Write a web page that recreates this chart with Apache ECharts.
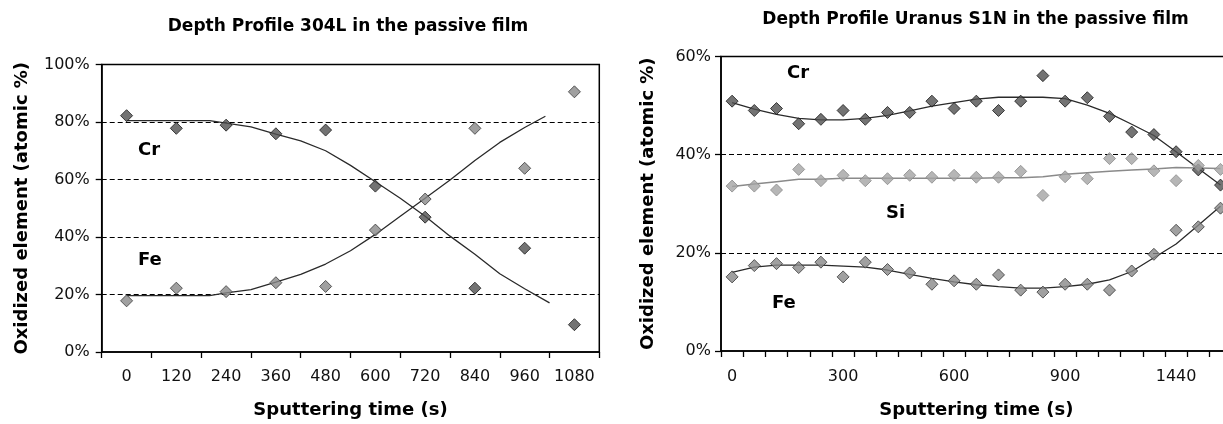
<!DOCTYPE html>
<html>
<head>
<meta charset="utf-8">
<script src="https://cdn.jsdelivr.net/npm/echarts@6/dist/echarts.min.js"></script>
<style>
html,body{margin:0;padding:0;background:#fff;overflow:hidden;width:1223px;height:424px;}
#chart{width:1245px;height:424px;}
</style>
</head>
<body>
<div id="chart"></div>
<script>
// ---------- Left chart: 304L ----------
var leftTimes = [0, 120, 240, 360, 480, 600, 720, 840, 960, 1080];
var leftCr = [82.2, 77.8, 78.9, 75.9, 77.2, 57.7, 46.9, 22.2, 36.1, 9.5];
var leftFe = [17.8, 22.2, 21.0, 24.1, 22.8, 42.4, 53.2, 77.8, 63.9, 90.5];
var leftCrCurveT = [0, 200, 240, 300, 360, 420, 480, 540, 600, 660, 720, 780, 840, 900, 960, 1020];
var leftCrCurve = [80.5, 80.5, 79.6, 78.3, 75.8, 73.4, 70.0, 64.9, 59.2, 53.5, 47.2, 40.3, 34.0, 27.2, 22.0, 17.1];
var leftFeCurveT = [0, 200, 240, 300, 360, 420, 480, 540, 600, 660, 720, 780, 840, 900, 960, 1010];
var leftFeCurve = [19.6, 19.6, 20.6, 21.7, 24.3, 27.0, 30.6, 35.2, 40.9, 47.2, 53.5, 59.8, 66.6, 72.9, 78.1, 82.0];

// ---------- Right chart: Uranus S1N ----------
var rightTickLabels = ['0', '', '', '', '', '300', '', '', '', '', '600', '', '', '', '', '900', '', '', '', '', '1440', '', ''];
var rightCr = [50.9, 49.0, 49.4, 46.3, 47.2, 49.0, 47.2, 48.6, 48.6, 50.9, 49.4, 50.9, 49.0, 50.9, 56.1, 50.9, 51.6, 47.8, 44.6, 44.1, 40.6, 36.9, 33.8];
var rightSi = [33.6, 33.6, 32.8, 37.0, 34.7, 35.8, 34.7, 35.1, 35.8, 35.4, 35.8, 35.4, 35.4, 36.6, 31.7, 35.5, 35.1, 39.2, 39.2, 36.7, 34.7, 37.8, 37.0];
var rightFe = [15.1, 17.4, 17.8, 17.0, 18.1, 15.1, 18.1, 16.6, 15.9, 13.6, 14.3, 13.6, 15.5, 12.4, 12.0, 13.6, 13.6, 12.4, 16.3, 19.7, 24.6, 25.3, 29.1];
var rightCrCurve = [50.6, 49.3, 48.2, 47.4, 47.1, 47.1, 47.4, 48.0, 48.9, 49.9, 50.6, 51.3, 51.7, 51.7, 51.7, 51.4, 50.1, 48.4, 46.2, 43.9, 40.6, 37.2, 33.8];
var rightSiCurve = [33.5, 34.0, 34.5, 35.0, 35.0, 35.2, 35.2, 35.2, 35.2, 35.2, 35.2, 35.2, 35.3, 35.3, 35.5, 36.0, 36.3, 36.6, 36.9, 37.1, 37.4, 37.3, 37.2];
var rightFeCurve = [16.0, 17.1, 17.5, 17.5, 17.5, 17.3, 17.1, 16.5, 15.6, 14.8, 14.1, 13.5, 13.1, 12.8, 12.8, 13.1, 13.6, 14.5, 16.2, 19.0, 21.8, 25.6, 29.5];

function zip(a, b) { return a.map(function (v, i) { return [v, b[i]]; }); }

var FONT = 'DejaVu Sans';
var tickFont = { fontFamily: FONT, fontSize: 16, color: '#111' };
var nameFont = { fontFamily: FONT, fontSize: 18, fontWeight: 'bold', color: '#000' };
var axisLine = { show: true, onZero: false, lineStyle: { color: '#000', width: 1.5 } };
var tick = { show: true, inside: false, length: 6, lineStyle: { color: '#000', width: 1.3 } };
var dashed = { show: true, showMinLine: false, showMaxLine: false, lineStyle: { color: '#000', type: [5, 3], width: 1 } };

var darkMarker = { color: '#505050', borderColor: '#1a1a1a', borderWidth: 1 };
var midMarker = { color: '#888888', borderColor: '#383838', borderWidth: 1 };
var lightMarker = { color: '#a4a4a4', borderColor: '#8a8a8a', borderWidth: 1 };
var curveDark = { color: '#2a2a2a', width: 1.3 };
var curveLight = { color: '#8a8a8a', width: 1.5 };

var W = 1245; // container width (wider than the window: the right chart runs off the edge)
var chart = echarts.init(document.getElementById('chart'), null, { renderer: 'canvas', width: W, height: 424 });

var option = {
  backgroundColor: '#fff',
  animation: false,
  grid: [
    { left: 101.7, top: 64.5, width: 497.6, bottom: 68.5, show: true, borderColor: '#000', borderWidth: 1.5, backgroundColor: 'transparent' },
    { left: 721, top: 56.5, width: 510.6, bottom: 69.7, show: true, borderColor: '#000', borderWidth: 1.5, backgroundColor: 'transparent' }
  ],
  xAxis: [
    {
      type: 'category', gridIndex: 0, data: leftTimes.map(String), boundaryGap: true,
      axisLine: axisLine, axisTick: Object.assign({}, tick, { interval: 0 }),
      axisLabel: Object.assign({}, tickFont, { interval: 0, margin: 17 }),
      splitLine: { show: false },
      name: 'Sputtering time (s)', nameLocation: 'middle', nameGap: 49, nameTextStyle: nameFont
    },
    { type: 'value', gridIndex: 0, min: -60, max: 1140, show: false, axisLine: { onZero: false } },
    {
      type: 'category', gridIndex: 1, data: rightTickLabels, boundaryGap: true,
      axisLine: axisLine, axisTick: Object.assign({}, tick, { interval: 0 }),
      axisLabel: Object.assign({}, tickFont, { interval: 0, margin: 18 }),
      splitLine: { show: false },
      name: 'Sputtering time (s)', nameLocation: 'middle', nameGap: 50, nameTextStyle: nameFont
    }
  ],
  yAxis: [
    {
      type: 'value', gridIndex: 0, min: 0, max: 100, interval: 20,
      axisLine: axisLine, axisTick: tick,
      axisLabel: Object.assign({}, tickFont, { margin: 12, formatter: '{value}%' }),
      splitLine: dashed,
      name: 'Oxidized element (atomic %)', nameLocation: 'middle', nameGap: 70, nameTextStyle: nameFont
    },
    {
      type: 'value', gridIndex: 1, min: 0, max: 60, interval: 20,
      axisLine: axisLine, axisTick: tick,
      axisLabel: Object.assign({}, tickFont, { margin: 10, formatter: '{value}%' }),
      splitLine: dashed,
      name: 'Oxidized element (atomic %)', nameLocation: 'middle', nameGap: 64, nameTextStyle: nameFont
    }
  ],
  series: [
    // left trend curves
    { name: 'Cr trend', type: 'line', xAxisIndex: 1, yAxisIndex: 0, data: zip(leftCrCurveT, leftCrCurve), symbol: 'none', lineStyle: curveDark, z: 2 },
    { name: 'Fe trend', type: 'line', xAxisIndex: 1, yAxisIndex: 0, data: zip(leftFeCurveT, leftFeCurve), symbol: 'none', lineStyle: curveDark, z: 2 },
    // left points
    { name: 'Cr', type: 'scatter', xAxisIndex: 1, yAxisIndex: 0, data: zip(leftTimes, leftCr), symbol: 'diamond', symbolSize: 12, itemStyle: darkMarker, z: 3 },
    { name: 'Fe', type: 'scatter', xAxisIndex: 1, yAxisIndex: 0, data: zip(leftTimes, leftFe), symbol: 'diamond', symbolSize: 12, itemStyle: midMarker, z: 3 },
    // right trend curves
    { name: 'Cr trend R', type: 'line', xAxisIndex: 2, yAxisIndex: 1, data: rightCrCurve, symbol: 'none', lineStyle: curveDark, z: 2 },
    { name: 'Si trend R', type: 'line', xAxisIndex: 2, yAxisIndex: 1, data: rightSiCurve, symbol: 'none', lineStyle: curveLight, z: 2 },
    { name: 'Fe trend R', type: 'line', xAxisIndex: 2, yAxisIndex: 1, data: rightFeCurve, symbol: 'none', lineStyle: curveDark, z: 2 },
    // right points
    { name: 'Cr R', type: 'scatter', xAxisIndex: 2, yAxisIndex: 1, data: rightCr, symbol: 'diamond', symbolSize: 12, itemStyle: darkMarker, z: 3 },
    { name: 'Si R', type: 'scatter', xAxisIndex: 2, yAxisIndex: 1, data: rightSi, symbol: 'diamond', symbolSize: 12, itemStyle: lightMarker, z: 3 },
    { name: 'Fe R', type: 'scatter', xAxisIndex: 2, yAxisIndex: 1, data: rightFe, symbol: 'diamond', symbolSize: 12, itemStyle: midMarker, z: 3 }
  ],
  graphic: [
    { type: 'text', x: 348, y: 27, style: { text: 'Depth Profile 304L in the passive film', font: 'bold 17px "DejaVu Sans"', fill: '#000', textAlign: 'center', textVerticalAlign: 'middle' } },
    { type: 'text', x: 975.5, y: 20, style: { text: 'Depth Profile Uranus S1N in the passive film', font: 'bold 17px "DejaVu Sans"', fill: '#000', textAlign: 'center', textVerticalAlign: 'middle' } },
    { type: 'text', x: 138, y: 150, z: 10, style: { text: 'Cr', font: 'bold 18px "DejaVu Sans"', fill: '#000', textAlign: 'left', textVerticalAlign: 'middle' } },
    { type: 'text', x: 138, y: 260, z: 10, style: { text: 'Fe', font: 'bold 18px "DejaVu Sans"', fill: '#000', textAlign: 'left', textVerticalAlign: 'middle' } },
    { type: 'text', x: 787, y: 73, z: 10, style: { text: 'Cr', font: 'bold 18px "DejaVu Sans"', fill: '#000', textAlign: 'left', textVerticalAlign: 'middle' } },
    { type: 'text', x: 886, y: 213, z: 10, style: { text: 'Si', font: 'bold 18px "DejaVu Sans"', fill: '#000', textAlign: 'left', textVerticalAlign: 'middle' } },
    { type: 'text', x: 772, y: 303, z: 10, style: { text: 'Fe', font: 'bold 18px "DejaVu Sans"', fill: '#000', textAlign: 'left', textVerticalAlign: 'middle' } }
  ]
};
chart.setOption(option);
</script>
</body>
</html>
